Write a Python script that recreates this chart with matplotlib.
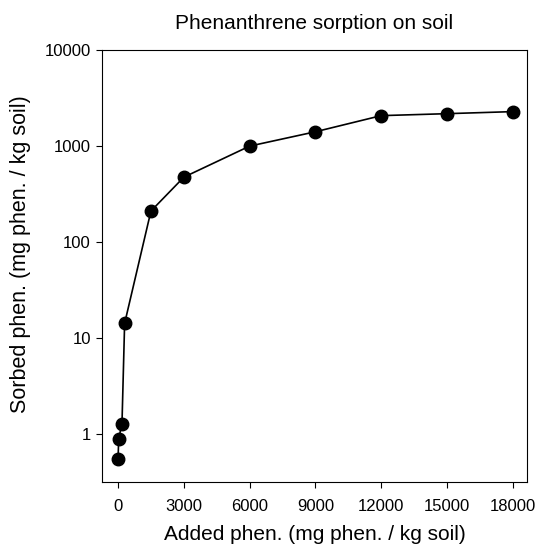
import matplotlib
matplotlib.use("Agg")
import matplotlib.pyplot as plt
from matplotlib.ticker import FixedLocator, FixedFormatter, NullLocator

plt.rcParams['font.family'] = ['Liberation Sans', 'DejaVu Sans']

added = [0, 30, 180, 300, 1500, 3000, 6000, 9000, 12000, 15000, 18000]
sorbed = [0.55, 0.9, 1.3, 14.3, 211, 475, 1000, 1410, 2075, 2175, 2285]
xticks = [0, 3000, 6000, 9000, 12000, 15000, 18000]
yticks = [1, 10, 100, 1000, 10000]
ytick_labels = ["1", "10", "100", "1000", "10000"]

fig = plt.figure(figsize=(5.37, 5.5), dpi=100)
ax = fig.add_axes([0.19, 0.1236, 0.791, 0.7855])
ax.plot(added, sorbed, color='black', lw=1.2, marker='o', markersize=9,
        markerfacecolor='black', markeredgecolor='black')
ax.set_yscale('log')
ax.set_xlim(-730, 18640)
ax.set_ylim(0.32, 10000)
ax.xaxis.set_major_locator(FixedLocator(xticks))
ax.yaxis.set_major_locator(FixedLocator(yticks))
ax.yaxis.set_major_formatter(FixedFormatter(ytick_labels))
ax.yaxis.set_minor_locator(NullLocator())
ax.set_xticklabels([str(t) for t in xticks])
ax.tick_params(direction='out', length=4, width=0.8, labelsize=12)
ax.tick_params(axis='x', pad=8)
ax.tick_params(axis='y', pad=4)
for s in ax.spines.values():
    s.set_linewidth(0.8)
ax.set_xlabel("Added phen. (mg phen. / kg soil)", fontsize=15, labelpad=8)
ax.set_ylabel("Sorbed phen. (mg phen. / kg soil)", fontsize=15.5)
ax.yaxis.set_label_coords(-0.168, 0.528)
ax.set_title("Phenanthrene sorption on soil", fontsize=15, pad=15)
fig.savefig("out.png", dpi=100)
